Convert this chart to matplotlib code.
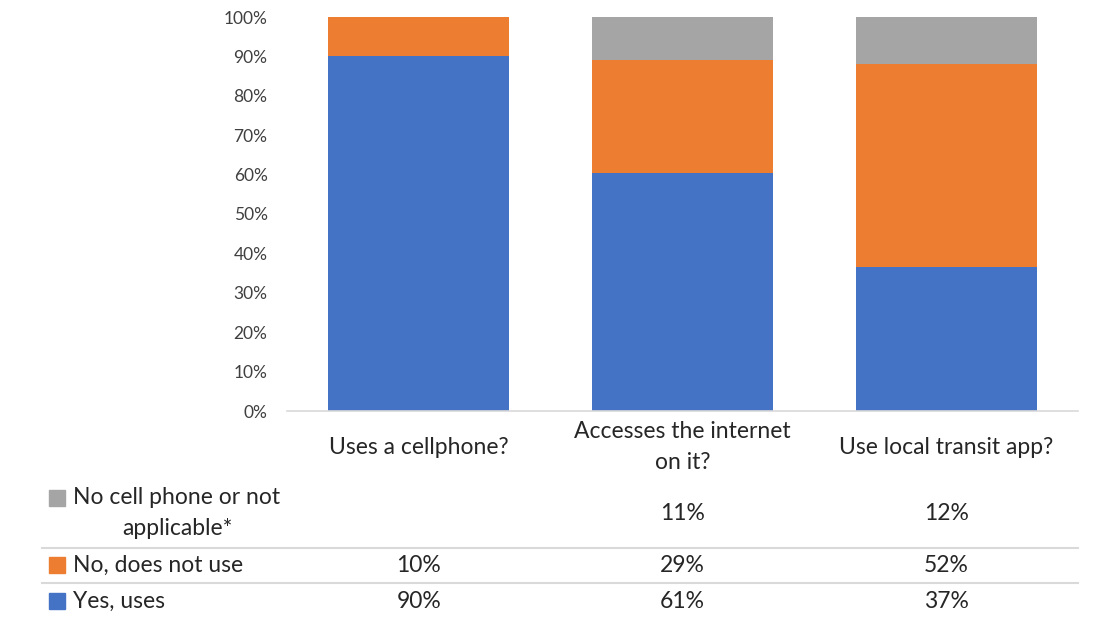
import numpy as np
import matplotlib
matplotlib.use('Agg')
import matplotlib.pyplot as plt
from matplotlib.transforms import blended_transform_factory
from matplotlib.patches import Rectangle

plt.rcParams['font.family'] = ['Lato', 'DejaVu Sans']

categories = ['Uses a cellphone?', 'Accesses the internet\non it?', 'Use local transit app?']
series_names = ['Yes, uses', 'No, does not use', 'No cell phone or not\napplicable*']
yes_uses = [90, 61, 37]
no_use = [10, 29, 52]
no_phone = [0, 11, 12]
colors = ['#4472C4', '#ED7D31', '#A5A5A5']
yticks = [0, 10, 20, 30, 40, 50, 60, 70, 80, 90, 100]

W, H = 1099, 624
fig = plt.figure(figsize=(W / 100, H / 100), dpi=100)
ax = fig.add_axes([287 / W, 1 - 411 / H, (1078 - 287) / W, (411 - 17) / H])

data = np.array([yes_uses, no_use, no_phone], dtype=float)
pct = data / data.sum(axis=0) * 100  # 100% stacked
x = np.arange(len(categories))
bottom = np.zeros(len(categories))
for vals, c in zip(pct, colors):
    ax.bar(x, vals, bottom=bottom, width=0.686, color=c)
    bottom += vals

ax.set_xlim(-0.5, 2.5)
ax.set_ylim(0, 100)
ax.set_yticks(yticks)
ax.set_yticklabels([f'{t}%' for t in yticks], fontsize=12.5, color='#404040')
ax.set_xticks([])
for s in ['top', 'right', 'left']:
    ax.spines[s].set_visible(False)
ax.spines['bottom'].set_color('#D9D9D9')
ax.spines['bottom'].set_linewidth(1.2)
ax.tick_params(axis='y', length=0, pad=14)

# table below the chart: x in data coords, y in figure coords
tr = blended_transform_factory(ax.transData, fig.transFigure)
fy = lambda py: 1 - py / H
FS = 16.5
LS = 1.62

for xi, cat in zip(x, categories):
    ax.text(xi, fy(447), cat, transform=tr, ha='center', va='center',
            fontsize=FS, color='#262626', linespacing=LS)

row_y = [601, 565, 513]
for vals, name, c, py in zip(data, series_names, colors, row_y):
    if '\n' in name:
        fig.text(177 / W, fy(py), name, ha='center', va='center', fontsize=FS,
                 color='#262626', linespacing=LS)
        sq_y = 498
    else:
        fig.text(73 / W, fy(py), name, ha='left', va='center', fontsize=FS, color='#262626')
        sq_y = py
    fig.patches.append(Rectangle((49 / W, fy(sq_y + 8)), 16 / W, 16 / H,
                                 transform=fig.transFigure, color=c))
    for xi, v in zip(x, vals):
        if v > 0:
            ax.text(xi, fy(py), f'{int(v)}%', transform=tr, ha='center', va='center',
                    fontsize=FS, color='#262626')

for py in [548, 583]:
    fig.add_artist(plt.Line2D([42 / W, 1078 / W], [fy(py), fy(py)],
                              transform=fig.transFigure, color='#D9D9D9', lw=1.5))

fig.savefig('out.png', dpi=100)
